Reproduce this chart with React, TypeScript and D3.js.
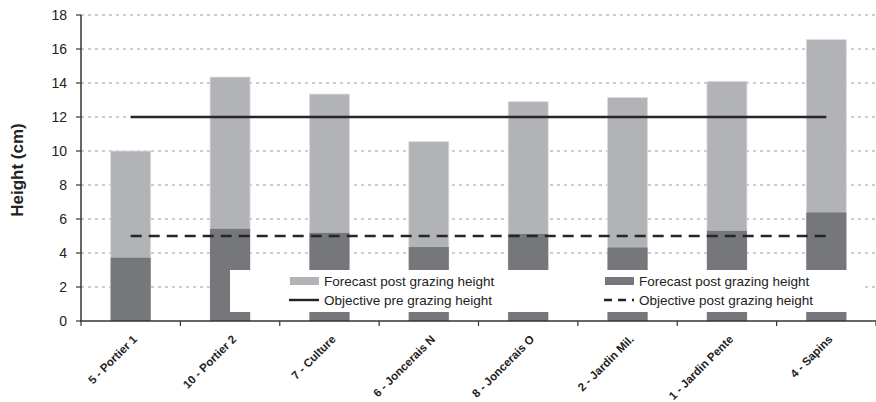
import * as React from 'react';
import * as d3 from 'd3';

const categories = [
	'5 - Portier 1',
	'10 - Portier 2',
	'7 - Culture',
	'6 - Joncerais N',
	'8 - Joncerais O',
	'2 - Jardin Mil.',
	'1 - Jardin Pente',
	'4 - Sapins',
];
const preGrazing = [10.0, 14.35, 13.35, 10.55, 12.9, 13.15, 14.1, 16.55];
const postGrazing = [3.72, 5.42, 5.18, 4.35, 5.12, 4.32, 5.3, 6.38];
const objectivePre = 12;
const objectivePost = 5;
const yTicks = [0, 2, 4, 6, 8, 10, 12, 14, 16, 18];

const W = 876;
const H = 402;
const FONT = '"Liberation Sans", Arial, sans-serif';

const draw = (svgNode: SVGSVGElement) => {
	const svg = d3.select(svgNode);
	svg.html('');

	const x = d3.scaleBand<string>().domain(categories).range([81, 876]).paddingInner(0).paddingOuter(0);
	const y = d3.scaleLinear().domain([0, 18]).range([321, 15]);
	const bw = 40;
	const cx = (c: string) => (x(c) as number) + x.bandwidth() / 2;

	// gridlines
	svg.append('g')
		.selectAll('line')
		.data(yTicks.filter(t => t > 0))
		.enter().append('line')
		.attr('x1', 81).attr('x2', 876)
		.attr('y1', d => y(d)).attr('y2', d => y(d))
		.attr('stroke', '#9a9a9a')
		.attr('stroke-width', 1)
		.attr('stroke-dasharray', '3,4');

	// light bars
	svg.append('g')
		.selectAll('rect')
		.data(categories)
		.enter().append('rect')
		.attr('x', d => cx(d) - bw / 2)
		.attr('width', bw)
		.attr('y', (d, i) => y(preGrazing[i]))
		.attr('height', (d, i) => y(0) - y(preGrazing[i]))
		.attr('fill', '#b2b3b7')
		.attr('stroke', '#dcdcde')
		.attr('stroke-width', 0.8);

	// dark bars
	svg.append('g')
		.selectAll('rect')
		.data(categories)
		.enter().append('rect')
		.attr('x', d => cx(d) - bw / 2)
		.attr('width', bw)
		.attr('y', (d, i) => y(postGrazing[i]))
		.attr('height', (d, i) => y(0) - y(postGrazing[i]))
		.attr('fill', '#76777b');

	// objective lines
	const first = cx(categories[0]);
	const last = cx(categories[categories.length - 1]);
	svg.append('line')
		.attr('x1', first).attr('x2', last)
		.attr('y1', y(objectivePre)).attr('y2', y(objectivePre))
		.attr('stroke', '#262626').attr('stroke-width', 2.4);
	svg.append('line')
		.attr('x1', first).attr('x2', last)
		.attr('y1', y(objectivePost)).attr('y2', y(objectivePost))
		.attr('stroke', '#262626').attr('stroke-width', 2.4)
		.attr('stroke-dasharray', '11,7');

	// y axis
	const yAxis = svg.append('g');
	yAxis.append('line')
		.attr('x1', 81).attr('x2', 81)
		.attr('y1', y(18)).attr('y2', y(0))
		.attr('stroke', '#333').attr('stroke-width', 1.5);
	yTicks.forEach(t => {
		yAxis.append('line')
			.attr('x1', 76).attr('x2', 81)
			.attr('y1', y(t)).attr('y2', y(t))
			.attr('stroke', '#333').attr('stroke-width', 1.2);
		yAxis.append('text')
			.attr('x', 67).attr('y', y(t))
			.attr('dy', '0.36em')
			.attr('text-anchor', 'end')
			.style('font-family', FONT)
			.style('font-size', '14px')
			.attr('fill', '#222')
			.text(t);
	});
	svg.append('text')
		.attr('transform', `translate(23,${(y(18) + y(0)) / 2 + 2}) rotate(-90)`)
		.attr('text-anchor', 'middle')
		.style('font-family', FONT)
		.style('font-size', '17px')
		.style('font-weight', 'bold')
		.attr('fill', '#222')
		.text('Height (cm)');

	// legend box (covers lower part of bars)
	const lg = svg.append('g');
	lg.append('rect')
		.attr('x', 230).attr('y', 270)
		.attr('width', 632).attr('height', 42)
		.attr('fill', '#fff');
	const items = [
		{ label: 'Forecast post grazing height', kind: 'bar', color: '#b2b3b7', x: 290, y: 281 },
		{ label: 'Forecast post grazing height', kind: 'bar', color: '#76777b', x: 605, y: 281 },
		{ label: 'Objective pre grazing height', kind: 'line', dash: null, x: 290, y: 300 },
		{ label: 'Objective post grazing height', kind: 'line', dash: '8,6', x: 605, y: 300 },
	];
	items.forEach(it => {
		if (it.kind === 'bar') {
			lg.append('rect')
				.attr('x', it.x).attr('y', it.y - 4)
				.attr('width', 29).attr('height', 8)
				.attr('fill', it.color as string);
		} else {
			const l = lg.append('line')
				.attr('x1', it.x - 1).attr('x2', it.x + 29)
				.attr('y1', it.y).attr('y2', it.y)
				.attr('stroke', '#222').attr('stroke-width', 2.4);
			if (it.dash) l.attr('stroke-dasharray', it.dash);
		}
		lg.append('text')
			.attr('x', it.x + 34).attr('y', it.y)
			.attr('dy', '0.36em')
			.style('font-family', FONT)
			.style('font-size', '13.5px')
			.attr('fill', '#222')
			.text(it.label);
	});

	// x axis
	const xAxis = svg.append('g');
	xAxis.append('line')
		.attr('x1', 80).attr('x2', 876)
		.attr('y1', y(0)).attr('y2', y(0))
		.attr('stroke', '#333').attr('stroke-width', 1.5);
	categories.forEach((c, i) => {
		const bx = (x(c) as number);
		xAxis.append('line')
			.attr('x1', bx).attr('x2', bx)
			.attr('y1', y(0)).attr('y2', y(0) + 5)
			.attr('stroke', '#333').attr('stroke-width', 1.2);
		xAxis.append('text')
			.attr('transform', `translate(${cx(c) + 7},${y(0) + 19}) rotate(-45)`)
			.attr('text-anchor', 'end')
			.style('font-family', FONT)
			.style('font-size', '11.5px')
			.style('font-weight', 'bold')
			.attr('fill', '#222')
			.text(c);
	});
	xAxis.append('line')
		.attr('x1', 876).attr('x2', 876)
		.attr('y1', y(0)).attr('y2', y(0) + 5)
		.attr('stroke', '#333').attr('stroke-width', 1.2);
};

export default function App() {
	const ref = React.useRef<SVGSVGElement>(null);
	React.useEffect(() => {
		if (ref.current) draw(ref.current);
	}, []);
	return (
		<svg
			ref={ref}
			width={W}
			height={H}
			style={{ position: 'absolute', left: 0, top: 0, background: '#fff' }}
		/>
	);
}
